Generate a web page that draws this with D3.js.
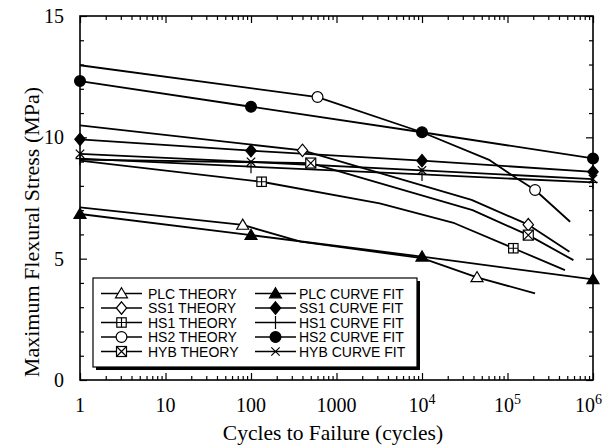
<!DOCTYPE html>
<html>
<head>
<meta charset="utf-8">
<script src="https://cdn.jsdelivr.net/npm/d3@7"></script>
<style>
  html, body { margin: 0; padding: 0; background: #fff; }
  svg { display: block; }
</style>
</head>
<body>
<svg id="chart" width="603" height="445"></svg>
<script>
// ---- data: fatigue life, stress (MPa) vs cycles to failure ----
const xTickValues = [1, 10, 100, 1000, 1e4, 1e5, 1e6];
const xTickBase = ["1", "10", "100", "1000", "10", "10", "10"];
const xTickExp = ["", "", "", "", "4", "5", "6"];
const yTickValues = [0, 5, 10, 15];

// curve fits (markers at every point)
const fitN = [1, 100, 1e4, 1e6];
const plcFit = [6.84, 5.97, 5.08, 4.15];
const ss1Fit = [9.92, 9.45, 9.04, 8.58];
const hs1Fit = [9.12, 8.79, 8.47, 8.14];
const hs2Fit = [12.32, 11.26, 10.21, 9.13];
const hybFit = [9.32, 8.99, 8.64, 8.28];

// theory curves (marker only at listed indices)
const plcTheoryN = [1, 80, 380, 1e4, 4.4e4, 2.1e5];
const plcTheoryS = [7.11, 6.39, 5.70, 5.02, 4.23, 3.57];
const plcTheoryMarks = [1, 4];

const ss1TheoryN = [1, 400, 3.8e4, 1.75e5, 5.3e5];
const ss1TheoryS = [10.49, 9.46, 7.42, 6.40, 5.29];
const ss1TheoryMarks = [1, 3];

const hs1TheoryN = [1, 133, 3200, 2.4e4, 1.17e5, 4.7e5];
const hs1TheoryS = [9.04, 8.17, 7.28, 6.46, 5.43, 4.53];
const hs1TheoryMarks = [1, 4];

const hs2TheoryN = [1, 600, 1e4, 6.2e4, 1.28e5, 2.1e5, 5.4e5];
const hs2TheoryS = [12.97, 11.66, 10.21, 9.06, 8.31, 7.83, 6.52];
const hs2TheoryMarks = [1, 5];

const hybTheoryN = [1, 500, 3.9e4, 1.75e5, 5.9e5];
const hybTheoryS = [9.08, 8.94, 7.00, 5.97, 4.94];
const hybTheoryMarks = [1, 3];

const legendLeft = ["PLC THEORY", "SS1 THEORY", "HS1 THEORY", "HS2 THEORY", "HYB THEORY"];
const legendRight = ["PLC CURVE FIT", "SS1 CURVE FIT", "HS1 CURVE FIT", "HS2 CURVE FIT", "HYB CURVE FIT"];

// ---- layout ----
const svg = d3.select("#chart");
const plot = { left: 80, right: 593, top: 16, bottom: 380 };
const x = d3.scaleLog().domain([1, 1e6]).range([plot.left, plot.right]);
const y = d3.scaleLinear().domain([0, 15]).range([plot.bottom, plot.top]);
const serif = "'Liberation Serif', 'Times New Roman', serif";
const sans = "'Liberation Sans', Arial, Helvetica, sans-serif";

// ---- marker shapes ----
function marker(g, type, cx, cy) {
  const m = g.append("g").attr("transform", `translate(${cx},${cy})`);
  const st = (s) => s.attr("stroke", "#000").attr("stroke-width", 1.2);
  switch (type) {
    case "triOpen":
    case "triFill":
      st(m.append("path").attr("d", "M0,-5.8L6,4.3L-6,4.3Z")
        .attr("fill", type === "triFill" ? "#000" : "#fff"));
      break;
    case "diaOpen":
    case "diaFill":
      st(m.append("path").attr("d", "M0,-6.2L5.2,0L0,6.2L-5.2,0Z")
        .attr("fill", type === "diaFill" ? "#000" : "#fff"));
      break;
    case "cirOpen":
    case "cirFill":
      st(m.append("circle").attr("r", 5.4)
        .attr("fill", type === "cirFill" ? "#000" : "#fff"));
      break;
    case "sqPlus":
      st(m.append("rect").attr("x", -4.7).attr("y", -4.7).attr("width", 9.4).attr("height", 9.4).attr("fill", "#fff"));
      st(m.append("path").attr("d", "M0,-4.7V4.7M-4.7,0H4.7").attr("fill", "none"));
      break;
    case "sqCross":
      st(m.append("rect").attr("x", -5).attr("y", -5).attr("width", 10).attr("height", 10).attr("fill", "#fff"));
      st(m.append("path").attr("d", "M-5,-5L5,5M5,-5L-5,5").attr("fill", "none"));
      break;
    case "plus":
      st(m.append("path").attr("d", "M0,-6.5V6.5M-4.5,0H4.5").attr("fill", "none"));
      break;
    case "cross":
      st(m.append("path").attr("d", "M-4.2,-4.2L4.2,4.2M4.2,-4.2L-4.2,4.2").attr("fill", "none"));
      break;
  }
}

const line = d3.line().x(d => x(d[0])).y(d => y(d[1]));
const dataG = svg.append("g");

function drawSeries(nArr, sArr, type, markIdx) {
  const pts = nArr.map((n, i) => [n, sArr[i]]);
  dataG.append("path").datum(pts).attr("d", line)
    .attr("fill", "none").attr("stroke", "#000").attr("stroke-width", 1.8)
    .attr("stroke-linejoin", "round");
  const idx = markIdx || pts.map((_, i) => i);
  idx.forEach(i => marker(dataG, type, x(pts[i][0]), y(pts[i][1])));
}

// curve fits
drawSeries(fitN, plcFit, "triFill");
drawSeries(fitN, ss1Fit, "diaFill");
drawSeries(fitN, hs1Fit, "plus");
drawSeries(fitN, hs2Fit, "cirFill");
drawSeries(fitN, hybFit, "cross");
// theory
drawSeries(plcTheoryN, plcTheoryS, "triOpen", plcTheoryMarks);
drawSeries(ss1TheoryN, ss1TheoryS, "diaOpen", ss1TheoryMarks);
drawSeries(hs1TheoryN, hs1TheoryS, "sqPlus", hs1TheoryMarks);
drawSeries(hs2TheoryN, hs2TheoryS, "cirOpen", hs2TheoryMarks);
drawSeries(hybTheoryN, hybTheoryS, "sqCross", hybTheoryMarks);

// ---- axes (ticks point inward on all four sides) ----
const minorX = [];
for (let d = 1; d < 1e6; d *= 10) for (let k = 2; k <= 9; k++) minorX.push(d * k);
const minorY = d3.range(0, 16).filter(v => v % 5 !== 0);

function styleAxis(g) {
  g.select(".domain").remove();
  g.selectAll("line").attr("stroke", "#000").attr("stroke-width", 1.2);
  g.selectAll("text").remove();
}
svg.append("g").attr("transform", `translate(0,${plot.bottom})`)
  .call(d3.axisBottom(x).tickValues(xTickValues).tickSize(-7)).call(styleAxis);
svg.append("g").attr("transform", `translate(0,${plot.bottom})`)
  .call(d3.axisBottom(x).tickValues(minorX).tickSize(-4)).call(styleAxis);
svg.append("g").attr("transform", `translate(0,${plot.top})`)
  .call(d3.axisTop(x).tickValues(xTickValues).tickSize(-7)).call(styleAxis);
svg.append("g").attr("transform", `translate(0,${plot.top})`)
  .call(d3.axisTop(x).tickValues(minorX).tickSize(-4)).call(styleAxis);
svg.append("g").attr("transform", `translate(${plot.left},0)`)
  .call(d3.axisLeft(y).tickValues(yTickValues).tickSize(-7)).call(styleAxis);
svg.append("g").attr("transform", `translate(${plot.left},0)`)
  .call(d3.axisLeft(y).tickValues(minorY).tickSize(-4)).call(styleAxis);
svg.append("g").attr("transform", `translate(${plot.right},0)`)
  .call(d3.axisRight(y).tickValues(yTickValues).tickSize(-7)).call(styleAxis);
svg.append("g").attr("transform", `translate(${plot.right},0)`)
  .call(d3.axisRight(y).tickValues(minorY).tickSize(-4)).call(styleAxis);

// frame
svg.append("rect").attr("x", plot.left).attr("y", plot.top)
  .attr("width", plot.right - plot.left).attr("height", plot.bottom - plot.top)
  .attr("fill", "none").attr("stroke", "#000").attr("stroke-width", 1.6);

// tick labels; the last one is kept inside the page edge
const xl = svg.append("g").attr("font-family", serif).attr("font-size", 20).attr("fill", "#000");
xTickValues.forEach((v, i) => {
  const last = i === xTickValues.length - 1;
  const t = xl.append("text")
    .attr("x", last ? 602 : x(v)).attr("y", 412)
    .attr("text-anchor", last ? "end" : "middle");
  t.append("tspan").text(xTickBase[i]);
  if (xTickExp[i]) t.append("tspan").attr("dy", -8).attr("font-size", 14).text(xTickExp[i]);
});
const yl = svg.append("g").attr("font-family", serif).attr("font-size", 20).attr("fill", "#000");
yTickValues.forEach(v => {
  yl.append("text").attr("x", 64).attr("y", y(v)).attr("dy", "0.35em")
    .attr("text-anchor", "end").text(v);
});

// axis titles
svg.append("text").attr("x", 333).attr("y", 440)
  .attr("text-anchor", "middle").attr("font-family", serif).attr("font-size", 21.5)
  .text("Cycles to Failure (cycles)");
svg.append("text").attr("transform", `translate(31,232) rotate(-90)`)
  .attr("text-anchor", "middle").attr("font-family", serif).attr("font-size", 22).attr("dy", "0.35em")
  .text("Maximum Flexural Stress (MPa)");

// ---- legend ----
const lg = svg.append("g");
const box = { x: 93, y: 278, w: 324, h: 89 };
lg.append("rect").attr("x", box.x + 3).attr("y", box.y + 3).attr("width", box.w).attr("height", box.h).attr("fill", "#000");
lg.append("rect").attr("x", box.x).attr("y", box.y).attr("width", box.w).attr("height", box.h)
  .attr("fill", "#fff").attr("stroke", "#000").attr("stroke-width", 1.2);
const leftTypes = ["triOpen", "diaOpen", "sqPlus", "cirOpen", "sqCross"];
const rightTypes = ["triFill", "diaFill", "plus", "cirFill", "cross"];
function legendCol(labels, types, x0, tx) {
  labels.forEach((lab, i) => {
    const ry = 293.5 + i * 14.5;
    lg.append("line").attr("x1", x0).attr("x2", x0 + 41).attr("y1", ry).attr("y2", ry)
      .attr("stroke", "#000").attr("stroke-width", 1.3);
    marker(lg, types[i], x0 + 20.5, ry);
    lg.append("text").attr("x", tx).attr("y", ry).attr("dy", "0.36em")
      .attr("font-family", sans).attr("font-size", 14).text(lab);
  });
}
legendCol(legendLeft, leftTypes, 101, 148);
legendCol(legendRight, rightTypes, 255, 299);
</script>
</body>
</html>
